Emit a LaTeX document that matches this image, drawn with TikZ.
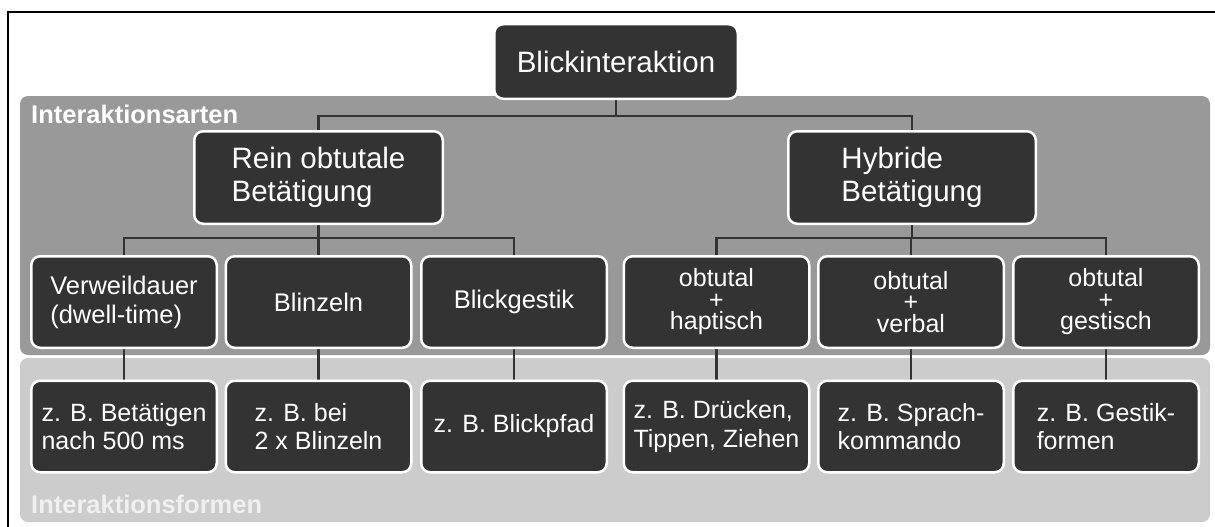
\documentclass[tikz,border=0pt]{standalone}
\usepackage{fontspec}
\setmainfont{Liberation Sans}
\usetikzlibrary{backgrounds}
\definecolor{boxdark}{HTML}{333333}
\definecolor{paneldark}{HTML}{999999}
\definecolor{panellight}{HTML}{CCCCCC}
\definecolor{formlabel}{HTML}{F0F0F0}
\tikzset{
  bx/.style={draw=white, line width=2.5pt, fill=boxdark, rounded corners=9pt, text=white, inner sep=0pt},
  bigbox/.style={bx, font=\fontsize{29.5}{33}\selectfont, align=left},
  rowbox/.style={bx, minimum width=185.5pt, minimum height=91.5pt, font=\fontsize{25}{28.5}\selectfont, align=left},
  plusbox/.style={bx, minimum width=185.5pt, minimum height=91.5pt, font=\fontsize{25}{21.5}\selectfont, align=center},
  conn/.style={draw=boxdark, line width=2.5pt},
  panellabel/.style={anchor=base west, font=\fontsize{25.5}{28}\selectfont\bfseries, inner sep=0pt}
}
\begin{document}
\begin{tikzpicture}[x=1pt,y=-1pt]
\useasboundingbox (0,0) rectangle (1215,527);
% nodes
\node[bigbox, minimum width=243.5pt, minimum height=74.5pt] (top) at (616,61.5) {Blickinteraktion};
\node[bigbox, minimum width=248.5pt, minimum height=92.5pt] (rein) at (318.5,177.5) {Rein obtutale\\Betätigung};
\node[bigbox, minimum width=247.5pt, minimum height=92.5pt] (hyb) at (912,177.5) {Hybride\\Betätigung};
\node[rowbox, font=\fontsize{25.5}{29}\selectfont] (a1) at (124,302) {Verweildauer\\(dwell-time)};
\node[rowbox, font=\fontsize{25.5}{29}\selectfont] (a2) at (318.5,302) {Blinzeln};
\node[rowbox, font=\fontsize{25.5}{29}\selectfont] (a3) at (514,302) {Blickgestik};
\node[plusbox] (a4) at (716.5,302) {obtutal\\+\\haptisch};
\node[plusbox] (a5) at (911,302) {obtutal\\+\\verbal};
\node[plusbox] (a6) at (1106,302) {obtutal\\+\\gestisch};
\node[rowbox] (b1) at (124,426.5) {z. B. Betätigen\\nach 500 ms};
\node[rowbox] (b2) at (318.5,426.5) {z. B. bei\\2 x Blinzeln};
\node[rowbox] (b3) at (514,426.5) {z. B. Blickpfad};
\node[rowbox] (b4) at (716.5,426.5) {z. B. Drücken,\\Tippen, Ziehen};
\node[rowbox] (b5) at (911,426.5) {z. B. Sprach-\\kommando};
\node[rowbox] (b6) at (1106,426.5) {z. B. Gestik-\\formen};
\node[panellabel, text=white] (lab1) at (31,123.5) {Interaktionsarten};
\node[panellabel, text=formlabel] (lab2) at (31,513) {Interaktionsformen};
\begin{scope}[on background layer]
  \fill[paneldark, rounded corners=8pt] (20,96) rectangle (1210,355);
  \fill[panellight, rounded corners=8pt] (20,358) rectangle (1210,522);
  \draw[line width=2pt] (8,527) -- (8,12) -- (1215,12);
  % connectors
  \draw[conn] (top.south) -- ++(0,17);
  \draw[conn] (rein.north) -- ++(0,-14) -| (hyb.north);
  \draw[conn] (rein.south) -- ++(0,13);
  \draw[conn] (a1.north) -- ++(0,-17) -| (a3.north);
  \draw[conn] (a2.north) -- ++(0,-17);
  \draw[conn] (hyb.south) -- ++(0,13);
  \draw[conn] (a4.north) -- ++(0,-17) -| (a6.north);
  \draw[conn] (a5.north) -- ++(0,-17);
  \draw[conn] (a1.south) -- (b1.north);
  \draw[conn] (a2.south) -- (b2.north);
  \draw[conn] (a3.south) -- (b3.north);
  \draw[conn] (a4.south) -- (b4.north);
  \draw[conn] (a5.south) -- (b5.north);
  \draw[conn] (a6.south) -- (b6.north);
\end{scope}
\end{tikzpicture}
\end{document}
